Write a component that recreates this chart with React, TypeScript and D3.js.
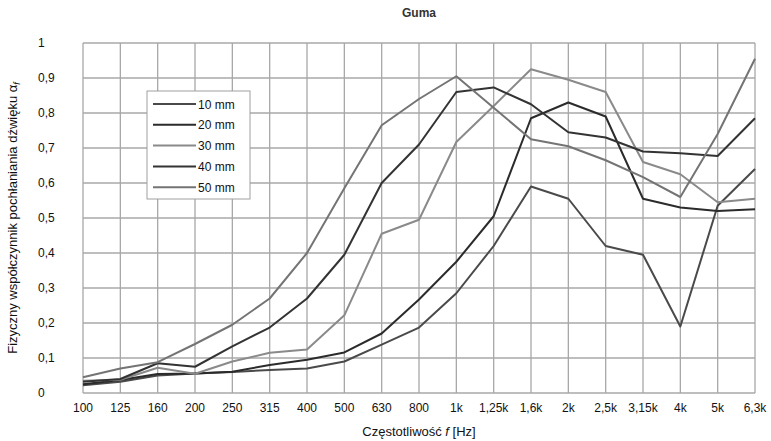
import React from 'react';
import * as d3 from 'd3';

const W = 771;
const H = 441;

const frequencies = ['100', '125', '160', '200', '250', '315', '400', '500', '630', '800', '1k', '1,25k', '1,6k', '2k', '2,5k', '3,15k', '4k', '5k', '6,3k'];
const yTicks = [0, 0.1, 0.2, 0.3, 0.4, 0.5, 0.6, 0.7, 0.8, 0.9, 1];

const mm10 = [0.022, 0.032, 0.05, 0.056, 0.06, 0.066, 0.07, 0.09, 0.138, 0.187, 0.285, 0.42, 0.59, 0.555, 0.42, 0.395, 0.19, 0.535, 0.64];
const mm20 = [0.025, 0.037, 0.054, 0.056, 0.061, 0.08, 0.095, 0.116, 0.17, 0.267, 0.375, 0.505, 0.785, 0.83, 0.79, 0.555, 0.53, 0.52, 0.525];
const mm30 = [0.035, 0.038, 0.072, 0.055, 0.09, 0.115, 0.124, 0.222, 0.455, 0.495, 0.717, 0.82, 0.925, 0.895, 0.86, 0.66, 0.625, 0.545, 0.555];
const mm40 = [0.032, 0.04, 0.085, 0.075, 0.133, 0.187, 0.27, 0.395, 0.6, 0.71, 0.86, 0.873, 0.825, 0.745, 0.73, 0.69, 0.685, 0.677, 0.785];
const mm50 = [0.045, 0.07, 0.088, 0.14, 0.195, 0.27, 0.4, 0.585, 0.765, 0.84, 0.905, 0.815, 0.725, 0.705, 0.665, 0.617, 0.56, 0.74, 0.955];

const seriesNames = ['10 mm', '20 mm', '30 mm', '40 mm', '50 mm'];
const seriesValues = [mm10, mm20, mm30, mm40, mm50];
const seriesColors = ['#4a4a4a', '#2b2b2b', '#8a8a8a', '#333333', '#747474'];

const FONT = '"Liberation Sans", Arial, sans-serif';

export default function App() {
  const margin = { left: 83, right: W - 755, top: 43, bottom: H - 393 };
  const x = d3.scalePoint<string>().domain(frequencies).range([margin.left, W - margin.right]).padding(0);
  const y = d3.scaleLinear().domain([0, 1]).range([H - margin.bottom, margin.top]);

  const line = d3.line<number>()
    .x((_, i) => x(frequencies[i]) as number)
    .y(d => y(d));

  const fmt = (v: number) => (v === 0 ? '0' : v === 1 ? '1' : d3.format('.1f')(v).replace('.', ','));

  return (
    <svg width={W} height={H} style={{ position: 'absolute', left: 0, top: 0, background: '#fff' }} fontFamily={FONT}>
      {/* title */}
      <text x={(margin.left + W - margin.right) / 2} y={17} textAnchor="middle" fontSize={12} fontWeight={700} fill="#333">Guma</text>

      {/* grid */}
      <g stroke="#a8a8a8" strokeWidth={1.3}>
        {yTicks.map(t => (
          <line key={'h' + t} x1={margin.left} x2={W - margin.right} y1={y(t)} y2={y(t)} />
        ))}
        {frequencies.map(f => (
          <line key={'v' + f} x1={x(f)} x2={x(f)} y1={margin.top} y2={H - margin.bottom} />
        ))}
      </g>

      {/* y tick labels */}
      {yTicks.map(t => (
        <text key={'yl' + t} x={38} y={y(t) + 4} fontSize={12} fill="#111">{fmt(t)}</text>
      ))}

      {/* x tick labels */}
      {frequencies.map(f => (
        <text key={'xl' + f} x={x(f)} y={412} textAnchor="middle" fontSize={12} fill="#111">{f}</text>
      ))}

      {/* series */}
      {seriesValues.map((vals, i) => (
        <path key={seriesNames[i]} d={line(vals) || ''} fill="none" stroke={seriesColors[i]} strokeWidth={2} strokeLinejoin="round" />
      ))}

      {/* legend */}
      <g>
        <rect x={147} y={91} width={103} height={108} fill="#fff" stroke="#a0a0a0" strokeWidth={1} />
        {seriesNames.map((n, i) => (
          <g key={'lg' + n} transform={`translate(0, ${104 + i * 20.8})`}>
            <line x1={153} x2={196} y1={0} y2={0} stroke={seriesColors[i]} strokeWidth={2} />
            <text x={198} y={4.5} fontSize={12} fill="#111">{n}</text>
          </g>
        ))}
      </g>

      {/* axis titles */}
      <text x={(margin.left + W - margin.right) / 2} y={436} textAnchor="middle" fontSize={13} fill="#111">
        Częstotliwość <tspan fontStyle="italic">f</tspan> [Hz]
      </text>
      <text transform={`translate(17, ${(margin.top + H - margin.bottom) / 2}) rotate(-90)`} textAnchor="middle" fontSize={13} fill="#111">
        Fizyczny współczynnik pochłaniania dźwięku α<tspan fontStyle="italic" fontSize={9} dy={3}>f</tspan>
      </text>
    </svg>
  );
}
